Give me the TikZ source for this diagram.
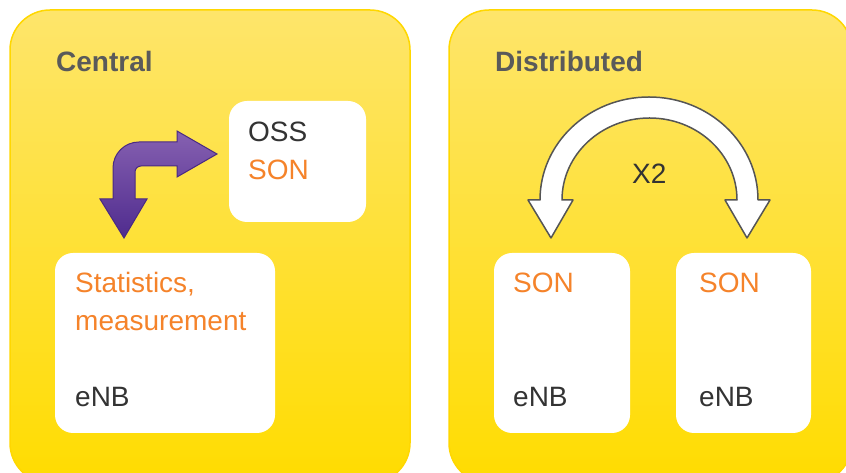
\documentclass[tikz,border=0pt]{standalone}
\usepackage{fontspec}
\setmainfont{Liberation Sans}
\usepackage{xcolor}
\usepackage{tikz}
\usetikzlibrary{calc}
\definecolor{paneltop}{HTML}{FEE56B}
\definecolor{panelbottom}{HTML}{FFDC00}
\definecolor{paneledge}{HTML}{FFD700}
\definecolor{titlegray}{HTML}{5A5A5A}
\definecolor{ink}{HTML}{333333}
\definecolor{sonorange}{HTML}{F5832A}
\definecolor{violettop}{HTML}{8661B1}
\definecolor{violetbottom}{HTML}{4F2B8E}
\definecolor{violetedge}{HTML}{4A2A82}
\definecolor{arcedge}{HTML}{555555}
\tikzset{
  panel/.style={top color=paneltop, bottom color=panelbottom, draw=paneledge, line width=1.5pt, rounded corners=40pt},
  card/.style={rectangle, fill=white, rounded corners=18pt, inner sep=0pt},
  head/.style={anchor=base west, inner sep=0pt, text=titlegray, font=\fontsize{28}{34}\selectfont\bfseries},
  lbl/.style={anchor=base west, inner sep=0pt, text=ink, font=\fontsize{28}{34}\selectfont},
  sonlbl/.style={lbl, text=sonorange},
  bentarrow/.style={top color=violettop, bottom color=violetbottom, draw=violetedge, line width=1pt},
  swaparrow/.style={fill=white, draw=arcedge, line width=1.5pt, line join=round}
}
\newcommand{\DrawPanel}[4]{% xmin,xmax,name,title
  \shadedraw[panel] (#1,-10) rectangle (#2,463);
  \node[head] (#3) at ($(#1,401)+(46,0)$) {#4};
}

\begin{document}
\begin{tikzpicture}[x=1pt, y=1pt]
  \useasboundingbox (0,0) rectangle (846,473);
  \clip (0,0) rectangle (846,473);
  \DrawPanel{10}{410}{central}{Central}
  \DrawPanel{449}{852}{distributed}{Distributed}
  % Central: OSS above the eNB
  \node[card, minimum width=137pt, minimum height=121pt] (oss) at (297.5,311.5) {};
  \node[card, minimum width=220pt, minimum height=180pt] (stats) at (165,130) {};
  \node[lbl] (ossname) at (248,331) {OSS};
  \node[sonlbl] (ossson) at (248,293) {SON};
  \node[sonlbl] (statsa) at (75,180) {Statistics,};
  \node[sonlbl] (statsb) at (75,142) {measurement};
  \node[lbl] (statsenb) at (75,66) {eNB};
  \shadedraw[bentarrow] (124,235) -- (147,274) -- (135,274) -- (135,301)
    .. controls (135,304.3) and (137.7,307) .. (141,307)
    -- (177,307) -- (177,296) -- (217,319) -- (177,342) -- (177,331) -- (139,331)
    .. controls (124.6,331) and (113,319.4) .. (113,305)
    -- (113,274) -- (100,274) -- cycle;
  % Distributed: two eNBs over X2
  \node[card, minimum width=136pt, minimum height=180pt] (enba) at (562,130) {};
  \node[card, minimum width=135pt, minimum height=180pt] (enbb) at (743.5,130) {};
  \node[sonlbl] (sona) at (513,180) {SON};
  \node[lbl] (enbaname) at (513,66) {eNB};
  \node[sonlbl] (sonb) at (699,180) {SON};
  \node[lbl] (enbbname) at (699,66) {eNB};
  \filldraw[swaparrow] (551,235) -- (573,273) -- (562,273)
    arc[start angle=180, end angle=0, x radius=87.5, y radius=82]
    -- (725,273) -- (747,235) -- (770,273) -- (758,273)
    arc[start angle=0, end angle=180, x radius=109, y radius=103]
    -- (528,273) -- cycle;
  \node[lbl] (xtwo) at (632,289) {X2};
\end{tikzpicture}
\end{document}
